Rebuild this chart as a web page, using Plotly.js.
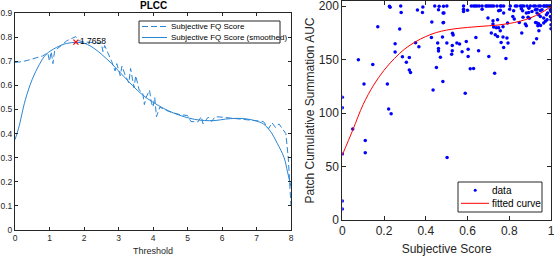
<!DOCTYPE html>
<html><head><meta charset="utf-8">
<script src="https://cdn.plot.ly/plotly-3.0.1.min.js"></script>
<style>html,body{margin:0;padding:0;background:#fff}#chart{width:554px;height:256px}</style>
</head><body><div id="chart"></div>
<script>
// ---- Left panel: PLCC vs threshold ----
const thresholdRaw = [0.0,0.2,0.4,0.6,0.8,0.95,1.0,1.05,1.1,1.15,1.3,1.5,1.65,1.76,1.85,2.0,2.2,2.4,2.5,2.55,2.6,2.8,2.9,2.95,3.0,3.05,3.1,3.2,3.3,3.35,3.4,3.45,3.5,3.6,3.7,3.75,3.8,3.9,3.95,4.0,4.05,4.1,4.2,4.4,4.6,4.8,5.0,5.1,5.3,5.4,5.45,5.6,5.7,5.8,6.0,6.2,6.4,6.6,6.8,7.0,7.2,7.35,7.45,7.55,7.65,7.75,7.85,7.92,7.96,8.0];
const plccRaw = [0.695,0.698,0.705,0.712,0.722,0.735,0.70,0.74,0.69,0.745,0.76,0.785,0.795,0.802,0.785,0.78,0.778,0.776,0.775,0.74,0.765,0.70,0.66,0.69,0.665,0.64,0.68,0.64,0.61,0.67,0.63,0.59,0.64,0.58,0.57,0.52,0.55,0.58,0.53,0.51,0.55,0.47,0.51,0.495,0.485,0.478,0.475,0.45,0.448,0.47,0.44,0.468,0.45,0.47,0.468,0.465,0.462,0.46,0.455,0.452,0.45,0.42,0.445,0.425,0.44,0.42,0.40,0.30,0.20,0.10];
const thresholdSmooth = [0,0.1,0.3,0.5,0.7,0.9,1.2,1.5,1.77,2.0,2.2,2.5,2.8,3.0,3.2,3.4,3.7,4.0,4.3,4.6,4.9,5.2,5.5,5.8,6.1,6.4,6.7,7.0,7.2,7.4,7.6,7.8,7.9,8.0];
const plccSmooth = [0.375,0.42,0.54,0.625,0.685,0.728,0.757,0.774,0.778,0.775,0.762,0.73,0.69,0.66,0.63,0.60,0.56,0.53,0.505,0.485,0.47,0.459,0.454,0.454,0.46,0.463,0.461,0.452,0.44,0.41,0.36,0.30,0.24,0.18];
const peakX = [1.7658];
const peakY = [0.779];
const peakLabel = ['1.7658'];
const leftXTicks = [0,1,2,3,4,5,6,7,8];
const leftYTicks = [0,0.1,0.2,0.3,0.4,0.5,0.6,0.7,0.8,0.9];
const leftYTickText = ['0','0.1','0.2','0.3','0.4','0.5','0.6','0.7','0.8','0.9'];
const leftLegendNames = ['Subjective FQ Score', 'Subjective FQ Score (smoothed)'];

// ---- Right panel: scatter + fitted curve ----
const subjScore = [
 0,0,0,0,0,0.05,0.077,0.104,0.11,0.11,0.146,0.17,0.216,0.222,0.234,0.226,0.229,0.253,0.253,0.275,0.28,0.282,0.288,0.307,0.321,0.321,0.327,0.351,0.367,0.36,0.384,0.386,0.429,0.427,0.435,0.443,0.451,0.461,0.461,0.457,0.464,0.461,0.47,0.483,0.483,
 0.485,0.487,0.485,0.48,0.482,0.501,0.502,0.501,0.527,0.528,0.531,0.527,0.524,0.549,0.562,0.574,0.581,0.581,0.581,0.589,0.594,0.6,0.603,0.603,0.613,0.618,0.629,0.629,0.637,0.64,0.645,0.653,0.656,0.67,0.67,0.688,0.693,0.698,0.701,0.702,0.709,0.714,0.717,0.722,0.722,0.725,0.725,0.73,0.733,0.738,0.741,0.744,0.744,0.749,0.749,0.757,0.757,0.757,0.761,0.762,0.77,0.77,0.773,0.773,0.773,0.784,0.789,0.792,0.794,0.802,0.805,0.817,0.821,0.824,0.829,0.837,0.848,0.853,0.858,0.86,0.861,0.864,0.866,0.869,0.877,0.882,0.882,0.885,0.89,0.893,0.894,0.896,0.901,0.909,0.917,0.917,0.925,0.925,0.926,0.931,0.933,0.933,0.933,0.937,0.941,0.941,0.941,0.942,0.949,0.949,0.949,0.95,0.957,0.965,0.965,0.965,0.968,0.973,0.977,0.978,0.981,0.981,0.984,0.989,0.997,0.997,0.997,1.0,1.0,1.0,1.0,1.0];
const aucValue = [
 114.7,105,61.6,17.8,10.3,85,149.7,127.2,74.4,62.8,145.3,180.6,127.2,103.8,99.4,199.7,198.8,164.7,157,178.5,200,194,152.5,147.5,152,140.3,137.8,165.6,161.9,196.3,194,199,185,170.6,121.6,200,142.5,160.3,158,165.4,199.7,196.6,152.2,184.4,193.5,
 199.7,193.5,184.7,171,129.4,165.4,58.5,200,163.1,174.5,173,158.2,155,165.4,164.4,157.2,200,197,195,118.5,166.9,196,159.7,152.8,141.3,200,200,141.6,200,170.6,200,158.2,200,200,197,200,200,188.8,200,152.8,200,174.7,200,186.3,183.2,200,180.4,137.2,173.2,179.8,200,187.2,171.6,195.5,179.8,200,196,177,166,200,180.7,171.1,200,193.5,161.3,151,170,184.1,165.4,197,200,190.3,195.5,187.8,200,200,184.7,200,197.5,174.7,200,195.5,189.4,200,183.2,193.5,181.6,200,189.4,194,198,188.5,200,194.8,200,165.4,200,196.6,184.7,169.4,197,193.5,184.1,181.6,200,191.9,183.5,176.9,200,195.9,190.3,181.9,196.6,200,188.8,184.1,200,185.7,200,191.9,200,187.2,193.5,200,200,196.6,190.3,200,195,187.2,182.6,178.8];
const fitX = [0,0.05,0.1,0.15,0.2,0.25,0.3,0.35,0.4,0.45,0.5,0.55,0.6,0.65,0.7,0.75,0.8,0.85,0.9,0.95,1.0];
const fitY = [60.7,84,108,126,140,151,160,166.5,171.5,175.2,177.5,179,180,180.8,181.5,182.3,183.7,185.7,188.8,193.3,199.5];
const rightXTicks = [0,0.2,0.4,0.6,0.8,1];
const rightXTickText = ['0','0.2','0.4','0.6','0.8','1'];
const rightYTicks = [0,50,100,150,200];
const rightLegendNames = ['data', 'fitted curve'];

const blue = '#2a85d4';
const axisCol = '#262626';
const fontFam = '"Liberation Sans", Arial, Helvetica, sans-serif';
const W = 554, H = 256;
const px = v => v / W;
const py = v => 1 - v / H;

const traces = [
  {x: thresholdRaw, y: plccRaw, xaxis:'x', yaxis:'y', mode:'lines', name:leftLegendNames[0],
   line:{color:blue, width:1, dash:'6px,3px'}},
  {x: thresholdSmooth, y: plccSmooth, xaxis:'x', yaxis:'y', mode:'lines', name:leftLegendNames[1],
   line:{color:blue, width:1, shape:'spline', smoothing:1}},
  {x: peakX, y: peakY, xaxis:'x', yaxis:'y', mode:'markers+text', text: peakLabel, textposition:'middle right',
   textfont:{size:8.5, color:'#000', family:fontFam}, marker:{symbol:'x-thin', size:5, color:'red', line:{color:'red', width:1.2}},
   hoverinfo:'skip'},
  {x: subjScore, y: aucValue, xaxis:'x2', yaxis:'y2', mode:'markers', name:rightLegendNames[0],
   marker:{color:'#0000ff', size:3.5}},
  {x: fitX, y: fitY, xaxis:'x2', yaxis:'y2', mode:'lines', name:rightLegendNames[1],
   line:{color:'#ff0000', width:1, shape:'spline'}}
];

const baseAxis = {showline:true, linecolor:axisCol, linewidth:1, mirror:'ticks', ticks:'inside', tickcolor:axisCol,
  zeroline:false, showgrid:false, fixedrange:true, ticklabeloverflow:'allow'};

// legend-like boxes drawn in paper coordinates
const shapes = [
  {type:'rect', xref:'paper', yref:'paper', x0:px(139), x1:px(280), y0:py(21), y1:py(43), line:{color:axisCol, width:1}, fillcolor:'#fff', layer:'above'},
  {type:'line', xref:'paper', yref:'paper', x0:px(142), x1:px(167), y0:py(26.5), y1:py(26.5), line:{color:blue, width:1, dash:'6px,3px'}, layer:'above'},
  {type:'line', xref:'paper', yref:'paper', x0:px(142), x1:px(167), y0:py(37.5), y1:py(37.5), line:{color:blue, width:1}, layer:'above'},
  {type:'rect', xref:'paper', yref:'paper', x0:px(458), x1:px(542), y0:py(182), y1:py(212), line:{color:axisCol, width:1}, fillcolor:'#fff', layer:'above'},
  {type:'circle', xref:'paper', yref:'paper', x0:px(473.7), x1:px(476.7), y0:py(188.8), y1:py(191.8), line:{color:'#0000ff', width:0}, fillcolor:'#0000ff', layer:'above'},
  {type:'line', xref:'paper', yref:'paper', x0:px(461), x1:px(489), y0:py(203.3), y1:py(203.3), line:{color:'#ff0000', width:1}, layer:'above'}
];

const annotations = [
  {text:'<b>PLCC</b>', x:px(153), y:py(5.5), xref:'paper', yref:'paper', showarrow:false,
    font:{size:10, color:'#000'}, xanchor:'center', yanchor:'middle'},
  {text:leftLegendNames[0], x:px(169), y:py(26.5), xref:'paper', yref:'paper', showarrow:false, xanchor:'left', yanchor:'middle',
    font:{size:8, color:'#000'}},
  {text:leftLegendNames[1], x:px(169), y:py(37.5), xref:'paper', yref:'paper', showarrow:false, xanchor:'left', yanchor:'middle',
    font:{size:8, color:'#000'}},
  {text:rightLegendNames[0], x:px(490), y:py(190.3), xref:'paper', yref:'paper', showarrow:false, xanchor:'left', yanchor:'middle',
    font:{size:10, color:'#000'}},
  {text:rightLegendNames[1], x:px(490), y:py(203.3), xref:'paper', yref:'paper', showarrow:false, xanchor:'left', yanchor:'middle',
    font:{size:10, color:'#000'}}
];

const layout = {
  width:W, height:H, margin:{l:0, r:0, t:0, b:0}, paper_bgcolor:'#fff', plot_bgcolor:'#fff',
  font:{family:fontFam, color:axisCol},
  showlegend:false,
  xaxis: Object.assign({}, baseAxis, {domain:[px(15), px(291)], range:[0,8], tickvals:leftXTicks, ticklen:3,
    tickfont:{size:8.5, color:axisCol}, anchor:'y', title:{text:'Threshold', font:{size:9, color:axisCol}, standoff:6}}),
  yaxis: Object.assign({}, baseAxis, {domain:[py(230), py(13)], range:[0,0.9], tickvals:leftYTicks, ticktext:leftYTickText,
    ticklen:3, tickfont:{size:8.5, color:axisCol}, anchor:'x'}),
  xaxis2: Object.assign({}, baseAxis, {domain:[px(342.3), px(551)], range:[0,1], tickvals:rightXTicks, ticktext:rightXTickText,
    ticklen:4, tickfont:{size:12, color:axisCol}, anchor:'y2', title:{text:'Subjective Score', font:{size:12, color:axisCol}, standoff:7}}),
  yaxis2: Object.assign({}, baseAxis, {domain:[py(220), py(1)], range:[0,204.7], tickvals:rightYTicks,
    ticklen:4, tickfont:{size:12, color:axisCol}, anchor:'x2', title:{text:'Patch Cumulative Summation AUC', font:{size:12, color:axisCol}, standoff:1}}),
  shapes: shapes,
  annotations: annotations
};

Plotly.newPlot('chart', traces, layout, {displayModeBar:false, staticPlot:true});
</script>
</body></html>
